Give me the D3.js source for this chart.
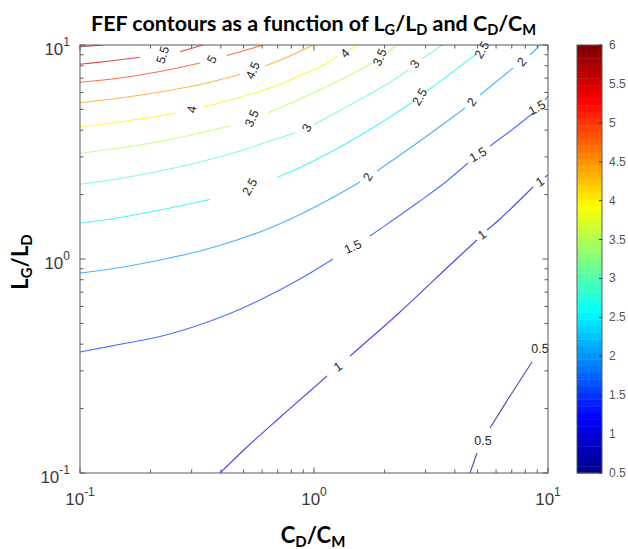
<!DOCTYPE html>
<html><head><meta charset="utf-8">
<script src="https://cdn.jsdelivr.net/npm/d3@7"></script>
<style>body{margin:0;background:#fff}svg{display:block}</style>
</head><body>
<svg id="chart" width="628" height="549"></svg>
<script>
// ---------------- data ----------------
const levels = [0.5, 1, 1.5, 2, 2.5, 3, 3.5, 4, 4.5, 5, 5.5, 6];
const colorbarTicks = [0.5, 1, 1.5, 2, 2.5, 3, 3.5, 4, 4.5, 5, 5.5, 6];
const colorRange = [0.5, 6];
const xTickExponents = [-1, 0, 1];
const yTickExponents = [-1, 0, 1];

// contour lines: [CD/CM, LG/LD] points, split where the line is broken for a label
const fef05 = [
  [[4.6416,0.1],[4.9727,0.1240]],
  [[5.6513,0.1623],[6.8806,0.2290],[8.543,0.3301]]
];
const fef10 = [
  [[0.3966,0.1],[0.5172,0.1323],[0.6949,0.1769],[0.9614,0.2416],[1.1365,0.2840]],
  [[1.4251,0.3521],[2.3309,0.5654],[3.8125,0.9375],[4.9727,1.2268]],
  [[5.4869,1.3662],[6.2357,1.538],[8.6278,2.170]],
  [[9.7094,2.417],[10,2.469]]
];
const fef15 = [
  [[0.1,0.3676],[0.1588,0.4050],[0.2197,0.4344],[0.3040,0.4811],[0.4376,0.5563],[0.5878,0.6433],[0.8713,0.8064],[1.2056,1.0]],
  [[1.7351,1.281],[2.1757,1.521],[2.8379,1.867],[3.6294,2.278],[4.5513,2.809]],
  [[5.6513,3.373],[7.0867,4.050],[8.6278,4.811]],
  [[9.7094,5.533],[10,5.776]]
];
const fef20 = [
  [[0.1,0.8602],[0.1482,0.9126],[0.2197,0.9893],[0.3257,1.090],[0.4828,1.240],[0.6486,1.396],[0.8713,1.614],[1.1705,1.907],[1.5724,2.290]],
  [[1.8588,2.578],[2.8379,3.560],[4.419,5.077]],
  [[5.1218,5.839],[7.0867,7.808]],
  [[8.3768,8.981],[9.2432,10]]
];
const fef25 = [
  [[0.1,1.473],[0.1482,1.563],[0.2197,1.694],[0.3594,1.897]],
  [[0.7017,2.417],[0.8713,2.676],[1.1705,3.145],[1.5724,3.776],[2.1124,4.609],[2.623,5.386]],
  [[3.040,6.095],[3.8125,7.319],[4.876,8.981]]
];
const fef30 = [
  [[0.1,2.234],[0.1482,2.378],[0.2197,2.578],[0.3257,2.840],[0.4828,3.196],[0.6486,3.560],[0.8295,3.879]],
  [[0.9902,4.228],[1.2915,4.942],[1.7351,5.902],[2.2190,6.937],[2.522,7.641]],
  [[2.894,8.648],[3.1313,9.127],[3.5238,10]]
];
const fef35 = [
  [[0.1,3.118],[0.1482,3.301],[0.2197,3.541],[0.3257,3.879],[0.4376,4.183]],
  [[0.6359,4.811],[0.8713,5.593],[1.1705,6.502],[1.4970,7.438],[1.7696,8.239]],
  [[2.0713,9.325],[2.2630,10]]
];
const fef40 = [
  [[0.1,4.151],[0.1482,4.367],[0.1991,4.584],[0.2547,4.796]],
  [[0.3355,5.132],[0.4376,5.533],[0.6486,6.296],[0.8713,7.202],[1.0608,7.892],[1.2540,8.837]],
  [[1.4251,9.476],[1.5267,10]]
];
const fef45 = [
  [[0.1,5.375],[0.1482,5.653],[0.2197,6.030],[0.3257,6.537],[0.4828,7.280]],
  [[0.6175,7.978],[0.7897,8.885],[0.9902,10]]
];
const fef50 = [
  [[0.1,6.694],[0.1482,7.012],[0.2197,7.519],[0.3257,8.239]],
  [[0.4249,8.933],[0.5072,9.445],[0.6054,10]]
];
const fef55 = [
  [[0.1,8.124],[0.1343,8.419],[0.1805,8.761]],
  [[0.2675,9.305],[0.3355,10]]
];
const fef60 = [
  [[0.1,9.819],[0.1254,10]]
];

// inline labels: [level, CD/CM, LG/LD, rotation in degrees]
const contourLabels = [
  [5.5, 0.2263, 8.981, -72], [5, 0.3665, 8.556, -60], [4.5, 0.5487, 7.600, -65],
  [4, 0.3010, 4.995, -80], [4, 1.3567, 9.127, -45],
  [3.5, 0.5433, 4.535, -65], [3.5, 1.9145, 8.742, -65],
  [3, 0.9335, 4.094, -60], [3, 2.7016, 8.151, -55],
  [2.5, 0.5327, 2.170, -60], [2.5, 2.8379, 5.714, -60], [2.5, 5.2236, 9.476, -60],
  [2, 1.7013, 2.417, -60], [2, 4.7338, 5.416, -55], [2, 7.7430, 8.329, -50],
  [1.5, 1.4678, 1.138, -25], [1.5, 5.0219, 3.062, -30], [1.5, 8.9742, 5.077, -30],
  [1, 1.2664, 0.3128, -35], [1, 5.2236, 1.295, -35], [1, 9.2432, 2.290, -35],
  [0.5, 5.2753, 0.1411, 0], [0.5, 9.2432, 0.3797, 0]
];

const contourSets = [
  [0.5, fef05], [1, fef10], [1.5, fef15], [2, fef20], [2.5, fef25], [3, fef30],
  [3.5, fef35], [4, fef40], [4.5, fef45], [5, fef50], [5.5, fef55], [6, fef60]
];

// ---------------- drawing ----------------
const svg = d3.select("#chart");
const L = 80, R = 548, T = 45, B = 473;
const x = d3.scaleLog().domain([0.1, 10]).range([L, R]);
const y = d3.scaleLog().domain([0.1, 10]).range([B, T]);

const jet = d3.scaleLinear()
  .domain([0, 0.125, 0.375, 0.625, 0.875, 1])
  .range(["#00008f", "#0000ff", "#00ffff", "#ffff00", "#ff0000", "#800000"])
  .clamp(true);
const cnorm = d3.scaleLinear().domain(colorRange).range([0, 1]);
const levelColor = v => jet(cnorm(v));

svg.append("rect").attr("width", 628).attr("height", 549).attr("fill", "#fff");

svg.append("defs").append("clipPath").attr("id", "plotclip")
  .append("rect").attr("x", L).attr("y", T).attr("width", R - L).attr("height", B - T);

const line = d3.line().x(d => x(d[0])).y(d => y(d[1])).curve(d3.curveCatmullRom.alpha(0.5));

const gLines = svg.append("g").attr("clip-path", "url(#plotclip)");
contourSets.forEach(([lev, segs]) => {
  segs.forEach(seg => {
    gLines.append("path").attr("d", line(seg))
      .attr("fill", "none").attr("stroke", levelColor(lev))
      .attr("stroke-width", 1.1).attr("stroke-opacity", 0.72)
      .attr("stroke-linejoin", "round");
  });
});

const fmt = v => String(v);
const tickFont = "'Liberation Sans', Arial, sans-serif";
const gLab = svg.append("g");
contourLabels.forEach(([lev, cx, cy, ang]) => {
  gLab.append("text")
    .attr("transform", `translate(${x(cx)},${y(cy)}) rotate(${ang})`)
    .attr("text-anchor", "middle").attr("dominant-baseline", "central")
    .attr("font-family", tickFont).attr("font-size", 12.5)
    .attr("fill", "#262626").text(fmt(lev));
});

// axes box and ticks (inward, all four sides)
const axisColor = "#5a5a5a";
const gAx = svg.append("g");
gAx.append("rect").attr("x", L).attr("y", T).attr("width", R - L).attr("height", B - T)
  .attr("fill", "none").attr("stroke", axisColor).attr("stroke-width", 1);

const majorVals = xTickExponents.map(e => Math.pow(10, e));
const minorVals = [];
[-1, 0].forEach(e => { for (let m = 2; m <= 9; m++) minorVals.push(m * Math.pow(10, e)); });

function ticks(vals, len) {
  vals.forEach(v => {
    const px = x(v), py = y(v);
    gAx.append("line").attr("x1", px).attr("x2", px).attr("y1", B).attr("y2", B - len);
    gAx.append("line").attr("x1", px).attr("x2", px).attr("y1", T).attr("y2", T + len);
    gAx.append("line").attr("y1", py).attr("y2", py).attr("x1", L).attr("x2", L + len);
    gAx.append("line").attr("y1", py).attr("y2", py).attr("x1", R).attr("x2", R - len);
  });
}
ticks(majorVals, 5.5);
ticks(minorVals, 3.5);
gAx.selectAll("line").attr("stroke", axisColor).attr("stroke-width", 1);

const tickColor = "#3a3a3a";
xTickExponents.forEach(e => {
  const t = svg.append("text").attr("x", x(Math.pow(10, e))).attr("y", 505)
    .attr("text-anchor", "middle").attr("font-family", tickFont).attr("font-size", 17)
    .attr("fill", tickColor);
  t.append("tspan").text("10");
  t.append("tspan").attr("dy", -9).attr("font-size", 12).text(e < 0 ? "-" + Math.abs(e) : String(e));
});
yTickExponents.forEach(e => {
  const t = svg.append("text").attr("x", 70).attr("y", y(Math.pow(10, e)) + 9.5)
    .attr("text-anchor", "end").attr("font-family", tickFont).attr("font-size", 17)
    .attr("fill", tickColor);
  t.append("tspan").text("10");
  t.append("tspan").attr("dy", -9).attr("font-size", 12).text(e < 0 ? "-" + Math.abs(e) : String(e));
});

// colorbar
const cbL = 577, cbR = 602;
const cy = d3.scaleLinear().domain(colorRange).range([B, T]);
const nBands = 64;
const bandH = (B - T) / nBands;
const gCb = svg.append("g");
d3.range(nBands).forEach(i => {
  gCb.append("rect").attr("x", cbL).attr("width", cbR - cbL)
    .attr("y", B - (i + 1) * bandH).attr("height", bandH + 0.4)
    .attr("fill", jet(i / (nBands - 1)));
});
gCb.append("rect").attr("x", cbL).attr("y", T).attr("width", cbR - cbL).attr("height", B - T)
  .attr("fill", "none").attr("stroke", axisColor).attr("stroke-width", 1);
colorbarTicks.forEach(v => {
  gCb.append("line").attr("x1", cbR).attr("x2", cbR - 3).attr("y1", cy(v)).attr("y2", cy(v))
    .attr("stroke", "#333").attr("stroke-width", 1);
  gCb.append("text").attr("x", 609).attr("y", cy(v)).attr("dominant-baseline", "central")
    .attr("font-family", tickFont).attr("font-size", 12).attr("fill", "#555").text(fmt(v));
});

// title and axis labels (with subscripts)
const labFont = "Lato, 'Open Sans', sans-serif";
function richText(sel, parts, size) {
  let inSub = false;
  parts.forEach(([s, sub]) => {
    const t = sel.append("tspan").text(s);
    if (sub) {
      t.attr("dy", inSub ? 0 : size * 0.2).attr("font-size", size * 0.68);
      inSub = true;
    } else {
      t.attr("dy", inSub ? -size * 0.2 : 0);
      inSub = false;
    }
  });
}
const title = svg.append("text").attr("x", 313.5).attr("y", 31)
  .attr("text-anchor", "middle").attr("font-family", labFont).attr("font-weight", 700)
  .attr("font-size", 22).attr("fill", "#000");
richText(title, [["FEF contours as a function of L"], ["G", 1], ["/L"], ["D", 1], [" and C"], ["D", 1], ["/C"], ["M", 1]], 22);
const tw = title.node().getBBox().width;
title.attr("font-size", 22 * 445 / tw);
title.selectAll("tspan").each(function () {
  const fs = this.getAttribute("font-size");
  if (fs) d3.select(this).attr("font-size", fs * 445 / tw);
});

const xl = svg.append("text").attr("x", 313).attr("y", 543)
  .attr("text-anchor", "middle").attr("font-family", labFont).attr("font-weight", 700)
  .attr("font-size", 22).attr("fill", "#000");
richText(xl, [["C"], ["D", 1], ["/C"], ["M", 1]], 22);

const yl = svg.append("text").attr("transform", "translate(28,262) rotate(-90)")
  .attr("text-anchor", "middle").attr("font-family", labFont).attr("font-weight", 700)
  .attr("font-size", 22).attr("fill", "#000");
richText(yl, [["L"], ["G", 1], ["/L"], ["D", 1]], 22);
</script>
</body></html>
